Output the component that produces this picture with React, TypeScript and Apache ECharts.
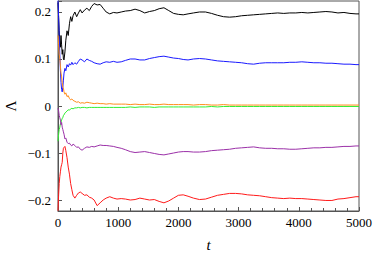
import React, { useEffect, useRef } from "react";
import * as echarts from "echarts";

const tValues = [0, 10, 20, 30, 40, 50, 60, 70, 80, 90, 100, 115, 130, 150, 170, 190, 210, 230, 250, 280, 310, 340, 370, 400, 440, 480, 520, 560, 600, 650, 700, 750, 800, 860, 920, 980, 1050, 1120, 1200, 1280, 1360, 1440, 1520, 1600, 1680, 1760, 1840, 1920, 2000, 2080, 2160, 2250, 2350, 2450, 2550, 2650, 2750, 2850, 2950, 3050, 3150, 3250, 3350, 3450, 3550, 3650, 3750, 3850, 3950, 4050, 4150, 4250, 4350, 4450, 4550, 4650, 4750, 4850, 4950, 5000];

const blackSeries = [0.22, 0.19, 0.16, 0.14, 0.125, 0.15, 0.13, 0.11, 0.12, 0.1, 0.098, 0.115, 0.14, 0.16, 0.15, 0.175, 0.19, 0.18, 0.192, 0.2, 0.19, 0.198, 0.205, 0.198, 0.204, 0.208, 0.203, 0.212, 0.218, 0.215, 0.216, 0.208, 0.2, 0.196, 0.199, 0.198, 0.2, 0.202, 0.203, 0.206, 0.203, 0.198, 0.201, 0.203, 0.207, 0.209, 0.203, 0.197, 0.195, 0.194, 0.196, 0.198, 0.2, 0.2, 0.197, 0.193, 0.19, 0.189, 0.19, 0.192, 0.193, 0.194, 0.195, 0.196, 0.197, 0.198, 0.197, 0.198, 0.198, 0.199, 0.198, 0.199, 0.2, 0.201, 0.2, 0.198, 0.199, 0.197, 0.196, 0.196];

const blueSeries = [0.225, 0.19, 0.15, 0.11, 0.075, 0.05, 0.035, 0.03, 0.04, 0.055, 0.07, 0.08, 0.075, 0.088, 0.083, 0.09, 0.087, 0.093, 0.088, 0.092, 0.089, 0.095, 0.1, 0.098, 0.094, 0.1, 0.097, 0.095, 0.092, 0.09, 0.089, 0.092, 0.094, 0.093, 0.095, 0.093, 0.094, 0.097, 0.1, 0.1, 0.098, 0.098, 0.101, 0.103, 0.105, 0.106, 0.104, 0.102, 0.101, 0.099, 0.098, 0.1, 0.101, 0.1, 0.098, 0.096, 0.095, 0.094, 0.093, 0.092, 0.09, 0.089, 0.091, 0.092, 0.092, 0.092, 0.092, 0.093, 0.093, 0.094, 0.093, 0.092, 0.092, 0.091, 0.091, 0.09, 0.089, 0.089, 0.088, 0.088];

const orangeSeries = [0.15, 0.13, 0.11, 0.1, 0.085, 0.07, 0.062, 0.05, 0.04, 0.038, 0.03, 0.025, 0.028, 0.02, 0.022, 0.016, 0.013, 0.015, 0.012, 0.01, 0.008, 0.009, 0.006, 0.007, 0.006, 0.008, 0.007, 0.006, 0.005, 0.006, 0.005, 0.005, 0.004, 0.005, 0.004, 0.004, 0.004, 0.004, 0.003, 0.004, 0.003, 0.003, 0.004, 0.003, 0.003, 0.004, 0.003, 0.003, 0.003, 0.003, 0.003, 0.002, 0.003, 0.003, 0.002, 0.002, 0.003, 0.002, 0.002, 0.002, 0.002, 0.002, 0.002, 0.002, 0.002, 0.002, 0.002, 0.002, 0.002, 0.002, 0.002, 0.002, 0.002, 0.002, 0.002, 0.002, 0.002, 0.002, 0.002, 0.002];

const greenSeries = [-0.075, -0.06, -0.05, -0.045, -0.038, -0.035, -0.03, -0.026, -0.025, -0.02, -0.019, -0.015, -0.013, -0.011, -0.008, -0.009, -0.006, -0.005, -0.006, -0.004, -0.004, -0.003, -0.004, -0.003, -0.003, -0.004, -0.003, -0.003, -0.003, -0.003, -0.003, -0.003, -0.003, -0.003, -0.003, -0.003, -0.003, -0.003, -0.002, -0.003, -0.002, -0.002, -0.002, -0.003, -0.002, -0.002, -0.002, -0.002, -0.002, -0.002, -0.002, -0.002, -0.002, -0.002, -0.001, -0.002, -0.001, -0.001, -0.001, -0.001, -0.001, -0.001, -0.001, -0.001, -0.001, -0.001, -0.001, -0.001, -0.001, -0.001, -0.001, -0.001, -0.001, -0.001, -0.001, -0.001, -0.001, -0.001, -0.001, -0.001];

const purpleSeries = [-0.005, -0.01, -0.02, -0.025, -0.03, -0.04, -0.035, -0.045, -0.05, -0.055, -0.06, -0.07, -0.068, -0.077, -0.08, -0.079, -0.083, -0.085, -0.081, -0.084, -0.088, -0.087, -0.092, -0.094, -0.09, -0.087, -0.088, -0.086, -0.087, -0.085, -0.083, -0.084, -0.084, -0.085, -0.086, -0.088, -0.09, -0.093, -0.097, -0.099, -0.098, -0.097, -0.099, -0.101, -0.103, -0.104, -0.102, -0.1, -0.098, -0.097, -0.097, -0.098, -0.098, -0.097, -0.095, -0.094, -0.093, -0.092, -0.09, -0.089, -0.088, -0.087, -0.089, -0.09, -0.09, -0.091, -0.091, -0.092, -0.092, -0.091, -0.09, -0.089, -0.089, -0.088, -0.088, -0.087, -0.086, -0.086, -0.085, -0.085];

const redSeries = [-0.223, -0.19, -0.165, -0.15, -0.14, -0.13, -0.125, -0.12, -0.1, -0.09, -0.088, -0.086, -0.095, -0.11, -0.13, -0.145, -0.165, -0.178, -0.19, -0.196, -0.19, -0.185, -0.183, -0.186, -0.19, -0.189, -0.194, -0.196, -0.2, -0.212, -0.206, -0.2, -0.196, -0.193, -0.196, -0.198, -0.197, -0.198, -0.2, -0.199, -0.196, -0.198, -0.2, -0.199, -0.203, -0.206, -0.202, -0.196, -0.19, -0.189, -0.192, -0.196, -0.199, -0.198, -0.194, -0.19, -0.188, -0.186, -0.186, -0.187, -0.189, -0.19, -0.191, -0.193, -0.195, -0.196, -0.197, -0.196, -0.197, -0.197, -0.198, -0.199, -0.2, -0.201, -0.201, -0.198, -0.197, -0.195, -0.193, -0.193];

const xTickValues = [0, 1000, 2000, 3000, 4000, 5000];
const xTickLabels = ["0", "1000", "2000", "3000", "4000", "5000"];
const yTickValues = [-0.2, -0.1, 0, 0.1, 0.2];
const yTickLabels = ["\u22120.2", "\u22120.1", "0", "0.1", "0.2"];
const xTitle = "t";
const yTitle = "Λ";

const seriesList = [
  { name: "black", values: blackSeries, color: "#000000" },
  { name: "blue", values: blueSeries, color: "#1a1aff" },
  { name: "orange", values: orangeSeries, color: "#ff8c1a" },
  { name: "green", values: greenSeries, color: "#33ee33" },
  { name: "purple", values: purpleSeries, color: "#9b30a8" },
  { name: "red", values: redSeries, color: "#ff1a1a" },
];

const X_MIN = 0;
const X_MAX = 5000;
const Y_MIN = -0.2234;
const Y_MAX = 0.2234;

export default function App() {
  const ref = useRef<HTMLDivElement>(null);
  useEffect(() => {
    if (!ref.current) return;
    const chart = echarts.init(ref.current, null, { renderer: "svg" });
    const labelFont = "13px 'Liberation Serif'";
    const titleFont = "15px 'Liberation Serif'";
    const italicFont = "italic 15px 'Liberation Serif'";
    chart.setOption({
      animation: false,
      grid: { left: 58, right: 15, top: 1, bottom: 49, show: true, borderColor: "#555", borderWidth: 1 },
      xAxis: {
        type: "value",
        min: X_MIN,
        max: X_MAX,
        interval: 1000,
        axisLine: { show: true, onZero: false, lineStyle: { color: "#555", width: 1 } },
        axisTick: { show: true, inside: true, length: 4, lineStyle: { color: "#555" } },
        minorTick: { show: true, splitNumber: 5, length: 3, lineStyle: { color: "#555" } },
        splitLine: { show: false },
        axisLabel: { show: false },
      },
      yAxis: {
        type: "value",
        min: Y_MIN,
        max: Y_MAX,
        splitNumber: 5,
        axisLine: { show: true, onZero: false, lineStyle: { color: "#555", width: 1 } },
        axisTick: { show: true, inside: true, length: 4, lineStyle: { color: "#555" } },
        splitLine: { show: false },
        axisLabel: { show: false },
      },
      series: seriesList.map((s) => ({
        type: "line",
        name: s.name,
        data: tValues.map((t, i) => [t, s.values[i]]),
        showSymbol: false,
        symbol: "none",
        clip: true,
        lineStyle: { color: s.color, width: 1 },
      })),
    });

    const px = (x: number, y: number) => chart.convertToPixel({ gridIndex: 0 }, [x, y]) as number[];
    const bottomY = px(X_MIN, Y_MIN)[1];
    const leftX = px(X_MIN, Y_MIN)[0];
    const rightX = px(X_MAX, Y_MIN)[0];
    const midY = px(X_MIN, (Y_MIN + Y_MAX) / 2)[1];
    const graphics: any[] = [];
    xTickValues.forEach((v, i) => {
      const p = px(v, Y_MIN);
      graphics.push({
        type: "text",
        x: p[0],
        y: bottomY + 5,
        style: { text: xTickLabels[i], font: labelFont, fill: "#000", align: "center", verticalAlign: "top" },
      });
    });
    yTickValues.forEach((v, i) => {
      const p = px(X_MIN, v);
      graphics.push({
        type: "text",
        x: leftX - 7,
        y: p[1],
        style: { text: yTickLabels[i], font: labelFont, fill: "#000", align: "right", verticalAlign: "middle" },
      });
    });
    graphics.push({
      type: "text",
      x: (leftX + rightX) / 2,
      y: bottomY + 34,
      style: { text: xTitle, font: italicFont, fill: "#000", align: "center", verticalAlign: "middle" },
    });
    graphics.push({
      type: "text",
      x: 11,
      y: midY,
      rotation: Math.PI / 2,
      style: { text: yTitle, font: titleFont, fill: "#000", align: "center", verticalAlign: "middle" },
    });
    chart.setOption({ graphic: graphics });
    return () => chart.dispose();
  }, []);
  return <div ref={ref} style={{ position: "absolute", left: 0, top: 0, width: 374, height: 260 }} />;
}
